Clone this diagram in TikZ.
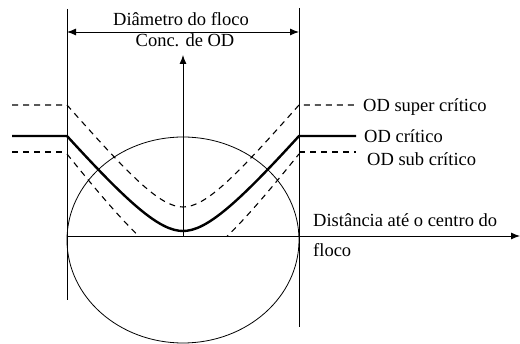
\documentclass[tikz,border=0pt]{standalone}
\usepackage{fontspec}
\setmainfont{Liberation Serif}
\usetikzlibrary{arrows.meta}
\tikzset{
  floc guide/.style={draw=black,line width=0.9pt},
  floc axis/.style={-{Latex[length=9pt,width=7pt]},draw=black,line width=0.9pt},
  floc span/.style={{Latex[length=9pt,width=7pt]}-{Latex[length=9pt,width=7pt]},draw=black,line width=0.9pt},
  floc critical/.style={draw=black,line width=2.4pt},
  floc dashed/.style={draw=black,line width=1.1pt,dash pattern=on 6pt off 5pt},
  floc text/.style={inner sep=0pt,anchor=base west,font=\fontsize{18.5}{20}\selectfont}
}
\begin{document}
\begin{tikzpicture}[x=1pt,y=-1pt]
  \useasboundingbox (0,0) rectangle (520,344);

  % reference points
  \coordinate (lefttop) at (67,9);
  \coordinate (leftbot) at (67,300);
  \coordinate (righttop) at (299,8);
  \coordinate (rightbot) at (299,327);
  \coordinate (spanl) at (67,32);
  \coordinate (spanr) at (299,32);
  \coordinate (origin) at (183,236);
  \coordinate (odtip) at (183,55);
  \coordinate (disttip) at (520,236);
  \coordinate (axisl) at (67,236);

  % floc
  \draw[line width=0.8pt] (183,240) ellipse [x radius=116,y radius=103];

  % guides and axes
  \draw[floc guide] (lefttop) -- (leftbot);
  \draw[floc guide] (righttop) -- (rightbot);
  \draw[floc span] (spanl) -- (spanr);
  \draw[floc axis] (origin) -- (odtip);
  \draw[floc axis] (axisl) -- (disttip);

  % DO profiles
  \draw[floc dashed] (12,105) -- (67,105)
    .. controls (130,176) and (160,207) .. (183,207)
    .. controls (206,207) and (236,176) .. (299,105) -- (356,105);
  \draw[floc critical] (12,136) -- (67,136)
    .. controls (130,205) and (160,231) .. (183,231)
    .. controls (206,231) and (236,205) .. (299,136) -- (356,136);
  \draw[floc dashed] (12,152) -- (67,152);
  \draw[floc dashed] (299,152) -- (356,152);
  \begin{scope}
    \clip (0,0) rectangle (520,236);
    \draw[floc dashed] (67,154)
      .. controls (130,232) and (160,262) .. (183,262)
      .. controls (206,262) and (236,232) .. (299,154);
  \end{scope}

  % labels
  \node[floc text,anchor=base] (diam) at (181,26) {Diâmetro do floco};
  \node[floc text,anchor=base] (conc) at (185,47) {Conc. de OD};
  \node[floc text] (super) at (363,112) {OD super crítico};
  \node[floc text] (crit) at (364,143) {OD crítico};
  \node[floc text] (sub) at (367,166) {OD sub crítico};
  \node[floc text] (dist) at (313,227) {Distância até o centro do};
  \node[floc text] (floco) at (313,257) {floco};
\end{tikzpicture}
\end{document}
